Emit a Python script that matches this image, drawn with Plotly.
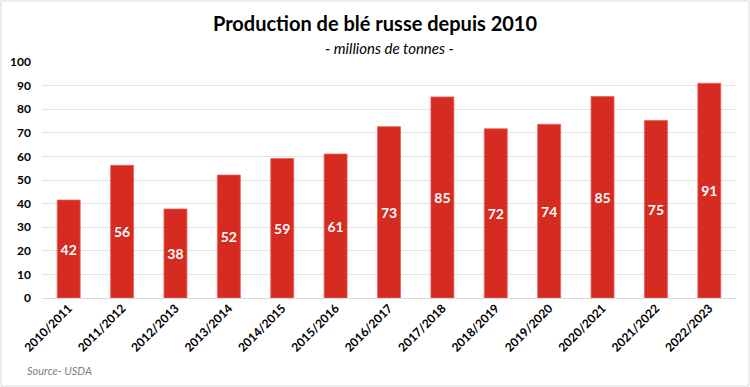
import plotly.graph_objects as go

categories = ["2010/2011", "2011/2012", "2012/2013", "2013/2014", "2014/2015", "2015/2016",
              "2016/2017", "2017/2018", "2018/2019", "2019/2020", "2020/2021", "2021/2022", "2022/2023"]
production = [41.5, 56.2, 37.7, 52.1, 59.1, 61.0, 72.6, 85.2, 71.7, 73.6, 85.4, 75.2, 91.0]
labels = [f"{int(v + 0.5):d}" for v in production]
y_ticks = [0, 10, 20, 30, 40, 50, 60, 70, 80, 90, 100]

FONT = "Lato"
W, H = 750, 387
ML, MR, MT, MB = 42, 14, 62, 89
plot_w = W - ML - MR
plot_h = H - MT - MB


def px_x(x):
    return (x - ML) / plot_w


def px_y(y):
    return (H - MB - y) / plot_h


fig = go.Figure(go.Bar(
    x=categories, y=production, text=labels,
    textposition="inside", insidetextanchor="middle",
    textfont=dict(family=FONT, size=14, color="white", weight="bold"),
    marker=dict(color="#d62b20", line=dict(color="#e8605a", width=0.8)),
    cliponaxis=False,
))

fig.update_layout(
    width=W, height=H,
    margin=dict(l=ML, r=MR, t=MT, b=MB, autoexpand=False),
    paper_bgcolor="white", plot_bgcolor="white",
    bargap=0.57,
    showlegend=False,
    font=dict(family=FONT, color="black"),
    title=dict(text="<b>Production de blé russe depuis 2010</b>", x=0.5, xanchor="center",
               y=1 - 24 / H, yanchor="middle", font=dict(family=FONT, size=20, color="black")),
    annotations=[
        dict(text="<i>- millions de tonnes -</i>", x=0.5, y=px_y(48), xref="paper", yref="paper",
             showarrow=False, font=dict(family=FONT, size=15, color="black"),
             xanchor="center", yanchor="middle"),
        dict(text="<i>Source- USDA</i>", x=px_x(25), y=px_y(370), xref="paper", yref="paper",
             showarrow=False, font=dict(family=FONT, size=11, color="#7f7f7f"),
             xanchor="left", yanchor="middle"),
    ],
    shapes=[dict(type="rect", xref="paper", yref="paper",
                 x0=px_x(1), x1=px_x(749), y0=px_y(386), y1=px_y(1),
                 line=dict(color="#d9d9d9", width=1))],
)

fig.update_yaxes(range=[0, 100], tickvals=y_ticks, showgrid=True, gridcolor="#e3e3e3",
                 gridwidth=1, zeroline=True, zerolinecolor="#d9d9d9", zerolinewidth=1,
                 tickfont=dict(family=FONT, size=12, color="black", weight="bold"),
                 ticks="", ticklabelstandoff=10, fixedrange=True, automargin=False)
fig.update_xaxes(tickangle=-45, tickfont=dict(family=FONT, size=12, color="black", weight="bold"),
                 showline=False, ticks="", fixedrange=True, automargin=False)

fig.write_html("out.html", config={"displayModeBar": False},
               post_script="document.body.style.margin='0';document.body.style.overflow='hidden';")
